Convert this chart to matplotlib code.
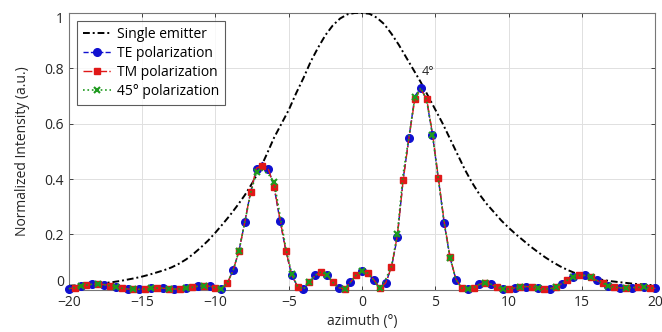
import numpy as np
import matplotlib
matplotlib.use("Agg")
import matplotlib.pyplot as plt
from matplotlib.transforms import ScaledTranslation

plt.rcParams['font.family'] = ['Open Sans', 'DejaVu Sans']

# ---- data ----
emitter_x = np.linspace(-20, 20, 81)
emitter_y = [0.015, 0.016, 0.018, 0.020, 0.022, 0.025, 0.028, 0.032, 0.037, 0.042,
             0.048, 0.055, 0.063, 0.071, 0.081, 0.094, 0.110, 0.130, 0.153, 0.178,
             0.207, 0.238, 0.270, 0.305, 0.342, 0.385, 0.432, 0.490, 0.550, 0.600,
             0.650, 0.710, 0.765, 0.825, 0.875, 0.920, 0.955, 0.980, 0.995, 1.000,
             1.000, 0.997, 0.983, 0.960, 0.925, 0.885, 0.840, 0.795, 0.750, 0.700,
             0.650, 0.600, 0.545, 0.490, 0.435, 0.387, 0.345, 0.310, 0.280, 0.250,
             0.224, 0.200, 0.178, 0.156, 0.136, 0.117, 0.100, 0.085, 0.072, 0.061,
             0.052, 0.045, 0.040, 0.035, 0.031, 0.028, 0.025, 0.022, 0.020, 0.018, 0.016]

azimuth = np.linspace(-20, 20, 101)

te = [0.004, 0.008, 0.013, 0.017, 0.020, 0.021, 0.019, 0.015, 0.010, 0.006,
      0.003, 0.002, 0.002, 0.003, 0.005, 0.006, 0.006, 0.004, 0.003, 0.003,
      0.005, 0.009, 0.013, 0.015, 0.013, 0.007, 0.003, 0.024, 0.070, 0.140,
      0.245, 0.355, 0.435, 0.460, 0.438, 0.370, 0.250, 0.140, 0.052, 0.012,
      0.003, 0.027, 0.052, 0.065, 0.052, 0.027, 0.008, 0.003, 0.027, 0.054,
      0.067, 0.060, 0.034, 0.006, 0.024, 0.080, 0.190, 0.400, 0.550, 0.700,
      0.730, 0.685, 0.560, 0.400, 0.240, 0.115, 0.037, 0.006, 0.002, 0.008,
      0.020, 0.026, 0.020, 0.009, 0.003, 0.003, 0.007, 0.011, 0.012, 0.010,
      0.006, 0.003, 0.004, 0.010, 0.022, 0.035, 0.046, 0.052, 0.052, 0.045,
      0.034, 0.024, 0.015, 0.010, 0.007, 0.007, 0.008, 0.009, 0.009, 0.007, 0.005]

tm = [0.004, 0.008, 0.013, 0.017, 0.020, 0.021, 0.019, 0.015, 0.010, 0.006,
      0.003, 0.002, 0.002, 0.003, 0.005, 0.006, 0.006, 0.004, 0.003, 0.003,
      0.005, 0.009, 0.013, 0.015, 0.013, 0.007, 0.003, 0.024, 0.070, 0.140,
      0.245, 0.355, 0.440, 0.448, 0.437, 0.372, 0.255, 0.142, 0.054, 0.012,
      0.003, 0.027, 0.052, 0.065, 0.052, 0.027, 0.008, 0.003, 0.027, 0.054,
      0.067, 0.062, 0.036, 0.006, 0.024, 0.082, 0.195, 0.395, 0.550, 0.690,
      0.725, 0.690, 0.565, 0.405, 0.245, 0.118, 0.038, 0.006, 0.002, 0.008,
      0.020, 0.026, 0.020, 0.009, 0.003, 0.003, 0.007, 0.011, 0.012, 0.010,
      0.006, 0.003, 0.004, 0.010, 0.022, 0.035, 0.046, 0.052, 0.052, 0.045,
      0.034, 0.024, 0.015, 0.010, 0.007, 0.007, 0.008, 0.009, 0.009, 0.007, 0.005]

pol45 = [0.004, 0.008, 0.013, 0.017, 0.020, 0.021, 0.019, 0.015, 0.010, 0.006,
         0.003, 0.002, 0.002, 0.003, 0.005, 0.006, 0.006, 0.004, 0.003, 0.003,
         0.005, 0.009, 0.013, 0.015, 0.013, 0.007, 0.003, 0.024, 0.070, 0.140,
         0.245, 0.350, 0.425, 0.432, 0.418, 0.390, 0.270, 0.150, 0.057, 0.012,
         0.003, 0.027, 0.052, 0.065, 0.052, 0.027, 0.008, 0.003, 0.027, 0.054,
         0.067, 0.060, 0.034, 0.006, 0.037, 0.085, 0.200, 0.420, 0.555, 0.695,
         0.730, 0.685, 0.560, 0.400, 0.240, 0.115, 0.037, 0.006, 0.002, 0.008,
         0.020, 0.026, 0.020, 0.009, 0.003, 0.003, 0.007, 0.011, 0.012, 0.010,
         0.006, 0.003, 0.004, 0.010, 0.022, 0.035, 0.046, 0.052, 0.052, 0.045,
         0.034, 0.024, 0.015, 0.010, 0.007, 0.007, 0.008, 0.009, 0.009, 0.007, 0.005]

xticks = [-20, -15, -10, -5, 0, 5, 10, 15, 20]
yticks = [0, 0.2, 0.4, 0.6, 0.8, 1]
ytick_labels = ['0', '0.2', '0.4', '0.6', '0.8', '1']

# ---- figure ----
fig = plt.figure(figsize=(6.62, 3.32), dpi=100)
ax = fig.add_axes([0.104, 0.127, 0.886, 0.834])

ax.plot(emitter_x, emitter_y, color='black', linestyle=(0, (3.5, 1.5, 1, 1.5)),
        linewidth=1.4, label='Single emitter', zorder=3)
ax.plot(azimuth, te, color='#1010d0', linestyle='--', linewidth=1.0,
        marker='o', markersize=5.5, markevery=(0, 2), label='TE polarization',
        clip_on=False, zorder=4)
ax.plot(azimuth, tm, color='#e01818', linestyle='-.', linewidth=1.0,
        marker='s', markersize=4.8, markevery=(1, 2), label='TM polarization',
        clip_on=False, zorder=5)
ax.plot(azimuth, pol45, color='#1e9a1e', linestyle=':', linewidth=1.2,
        marker='x', markersize=5, markeredgewidth=1.5, markevery=(2, 3),
        label='45° polarization', clip_on=False, zorder=6)

ax.text(4.5, 0.79, '4°', fontsize=9, color='#262626', ha='center', va='center')

ax.set_xlim(-20, 20)
ax.set_ylim(0, 1.0)
ax.set_xticks(xticks)
ax.set_yticks(yticks)
ax.set_yticklabels(ytick_labels)
ax.tick_params(direction='in', length=3, colors='#262626', labelsize=10,
               top=True, right=True, width=0.6)
for s in ax.spines.values():
    s.set_color('#777777')
    s.set_linewidth(0.8)
ax.grid(True, color='#e0e0e0', linewidth=0.7)
ax.set_axisbelow(True)

# nudge the end labels of the y axis like the reference
ylabs = ax.get_yticklabels()
ylabs[0].set_transform(ylabs[0].get_transform() + ScaledTranslation(0, 7 / 72, fig.dpi_scale_trans))
ylabs[-1].set_transform(ylabs[-1].get_transform() + ScaledTranslation(0, -3 / 72, fig.dpi_scale_trans))

ax.set_xlabel('azimuth (°)', fontsize=10, color='#262626', labelpad=3)
ax.set_ylabel('Normalized Intensity (a.u.)', fontsize=10, color='#262626', labelpad=10)

leg = ax.legend(loc='upper left', fontsize=10, frameon=True, fancybox=False,
                edgecolor='#333333', handlelength=2.0, borderaxespad=0.6,
                labelspacing=0.3, borderpad=0.4, handletextpad=0.5)
leg.get_frame().set_linewidth(0.8)

fig.savefig('out.png', dpi=100)
